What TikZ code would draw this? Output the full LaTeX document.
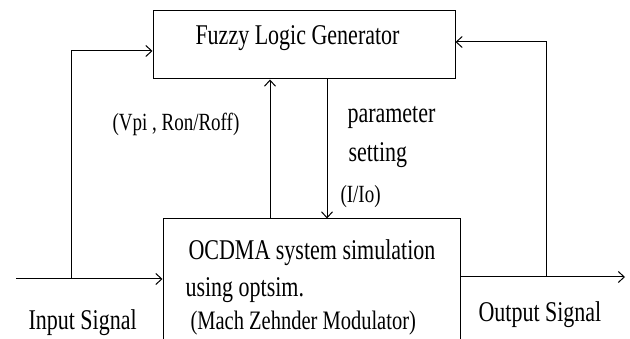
\documentclass[tikz,border=0pt]{standalone}
\usepackage{fontspec}
\setmainfont{Liberation Serif}
\usetikzlibrary{arrows.meta}
\newcommand{\stx}[1]{\scalebox{1}[1.3]{#1}}
\begin{document}
\begin{tikzpicture}[x=1pt,y=-1pt,
  line width=1pt,
  tip/.style={-{Straight Barb[length=6pt,width=11pt]}},
  lbl/.style={anchor=base west,inner sep=0pt,font=\fontsize{22}{26}\selectfont},
  sml/.style={anchor=base west,inner sep=0pt,font=\fontsize{19}{23}\selectfont},
  blk/.style={draw,minimum width=#1,inner sep=0pt}]
\useasboundingbox (0,0) rectangle (630,339);
\clip (0,0) rectangle (630,339);
% boxes
\node[blk=302pt,minimum height=68pt] (flg) at (304,45) {};
\node[blk=297pt,minimum height=126pt] (sim) at (311.5,282) {};
% texts
\node[lbl] (tflg) at (195,45) {\stx{Fuzzy Logic Generator}};
\node[lbl] (t1) at (188,260) {\stx{OCDMA system simulation}};
\node[lbl] (t2) at (185,297) {\stx{using optsim.}};
\node[sml,font=\fontsize{20.5}{24}\selectfont] (t3) at (190,330) {\stx{(Mach Zehnder Modulator)}};
\node[sml] (tv) at (112,131) {\stx{(Vpi , Ron/Roff)}};
\node[lbl] (tp) at (347,123) {\stx{parameter}};
\node[lbl] (ts) at (348,162) {\stx{setting}};
\node[sml] (ti) at (340,203) {\stx{(I/Io)}};
\node[lbl] (tin) at (28,330) {\stx{Input Signal}};
\node[lbl] (tout) at (478,322) {\stx{Output Signal}};
% coordinates
\coordinate (inL) at (16,279);
\coordinate (jL) at (71,279);
\coordinate (fbL) at (71,51);
\coordinate (upx) at (270,0);
\coordinate (dnx) at (327,0);
\coordinate (outy) at (0,277);
\coordinate (outR) at (625,277);
\coordinate (jR) at (546,277);
\coordinate (fbR) at (546,42);
% connectors
\draw[tip] (inL) -- (inL -| sim.west);
\draw[tip] (jL) -- (fbL) -- (flg.west |- fbL);
\draw[tip] (sim.north -| upx) -- (flg.south -| upx);
\draw[tip] (flg.south -| dnx) -- (sim.north -| dnx);
\draw[tip] (sim.east |- outy) -- (outR);
\draw[tip] (jR) -- (fbR) -- (flg.east |- fbR);
\end{tikzpicture}
\end{document}
